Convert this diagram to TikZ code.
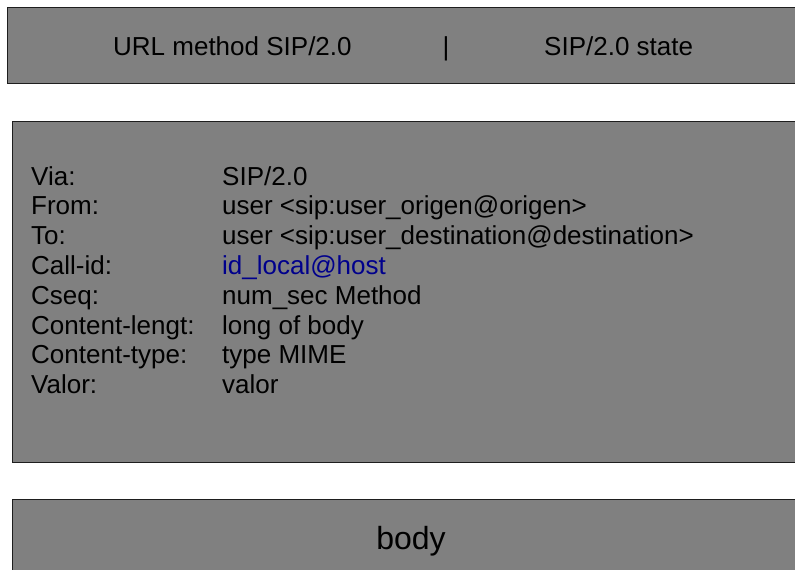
\documentclass[tikz,border=0pt]{standalone}
\usepackage{fontspec}
\setmainfont{Liberation Sans}
\definecolor{boxgray}{RGB}{128,128,128}
\definecolor{boxline}{RGB}{30,30,30}
\definecolor{linkblue}{RGB}{0,0,140}
\begin{document}
\begin{tikzpicture}[x=1pt,y=-1pt,
  box/.style={draw=boxline,line width=1.3pt,fill=boxgray,anchor=north west,inner sep=0pt},
  txt/.style={anchor=base west,inner sep=0pt,font=\fontsize{26}{30}\selectfont},
  ctxt/.style={anchor=base,inner sep=0pt,font=\fontsize{26}{30}\selectfont},
  bodytxt/.style={anchor=base,inner sep=0pt,font=\fontsize{32}{36}\selectfont}]
\useasboundingbox (0,0) rectangle (795,570);
\clip (0,0) rectangle (795,570);
% boxes
\node[box,minimum width=813pt,minimum height=76pt] (startline) at (7,7) {};
\node[box,minimum width=808pt,minimum height=341pt] (headers) at (12,121) {};
\node[box,minimum width=808pt,minimum height=100pt] (msgbody) at (12,499) {};
% start line
\node[txt] (reqline) at (113,55) {URL method SIP/2.0};
\node[ctxt] (sep) at (446,55) {|};
\node[txt] (respline) at (544,55) {SIP/2.0 state};
% header fields
\node[txt] (via) at (31,185) {Via:};
\node[txt] (from) at (31,214.8) {From:};
\node[txt] (to) at (31,244.6) {To:};
\node[txt] (callid) at (31,274.4) {Call-id:};
\node[txt] (cseq) at (31,304.2) {Cseq:};
\node[txt] (clen) at (31,334) {Content-lengt:};
\node[txt] (ctype) at (31,363.8) {Content-type:};
\node[txt] (valor) at (31,393.6) {Valor:};
\node[txt] (viav) at (222,185) {SIP/2.0};
\node[txt] (fromv) at (222,214.8) {user <sip:user\_origen@origen>};
\node[txt] (tov) at (222,244.6) {user <sip:user\_destination@destination>};
\node[txt,text=linkblue] (callidv) at (222,274.4) {id\_local@host};
\node[txt] (cseqv) at (222,304.2) {num\_sec Method};
\node[txt] (clenv) at (222,334) {long of body};
\node[txt] (ctypev) at (222,363.8) {type MIME};
\node[txt] (valorv) at (222,393.6) {valor};
% body
\node[bodytxt] (bodytext) at (411,549) {body};
\end{tikzpicture}
\end{document}
